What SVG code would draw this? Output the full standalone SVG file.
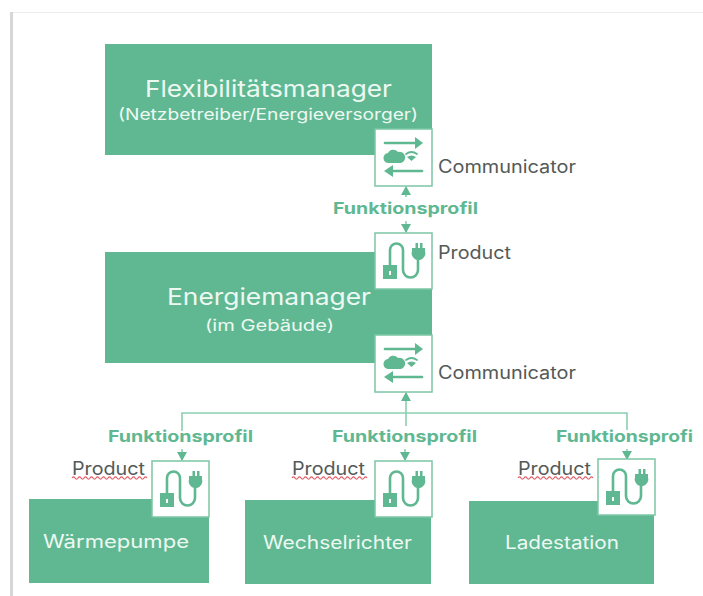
<svg xmlns="http://www.w3.org/2000/svg" width="703" height="596" viewBox="0 0 703 596">
<style>
text{font-family:"Inter","Open Sans","Liberation Sans",sans-serif}
.block{fill:#5fb891}
.box{fill:#fff;stroke:#7cc6a5;stroke-width:1.5}
.white{fill:#eef8f3}
.title{font-size:23px}
.sub{font-size:16px}
.leaf{font-size:18px}
.dark{fill:#555a58;font-size:18px}
.fp{fill:#5fb891;font-size:16px;font-weight:700}
.conn{fill:none;stroke:#8ccfb1;stroke-width:1.6}
.ico{fill:none;stroke:#5fb891;stroke-width:2.6;stroke-linecap:round;stroke-linejoin:round}
.icf{fill:#5fb891}
.sq{fill:none;stroke:#e0606a;stroke-width:1.200}
</style>
<defs>
<marker id="ah" markerWidth="11" markerHeight="11" refX="8" refY="5" orient="auto" markerUnits="userSpaceOnUse"><path d="M0 0L9 5L0 10Z" fill="#5fb891"/></marker>
<g id="comm">
<rect class="box" width="57" height="57"/>
<path class="ico" d="M10 14H44"/><path class="icf" d="M40 8L48 14L40 20Z"/>
<path class="ico" d="M47 42H15"/><path class="icf" d="M18 36L9 42L18 48Z"/>
<path class="icf" d="M14 34a5 5 0 0 1-1-10a6 6 0 0 1 10-1a5.500 5.500 0 0 1 3 11Z"/>
<path class="ico" style="stroke-width:1.800" d="M31 25q5.500-4 11 0"/><path class="icf" d="M32 28q4.500-3 9 0l-4.500 4Z"/>
</g>
<g id="prod">
<rect class="box" width="57" height="56"/>
<path class="ico" d="M15 33V17a6.500 6.500 0 0 1 13 0V37a7.500 7.500 0 0 0 15 0V27"/>
<path class="icf" d="M37 15h3.500V10h2.500v5h2v-5h2.500v5H50v3a7 7 0 0 1-5 9h-3a7 7 0 0 1-5-9Z"/>
<rect class="icf" x="8" y="32" width="14" height="14"/><rect x="14" y="38" width="2" height="4" fill="#fff"/>
</g>
<path id="wave" class="sq" d="M0 0q1.500-2.400 3 0t3 0t3 0t3 0t3 0t3 0t3 0t3 0t3 0t3 0t3 0t3 0t3 0t3 0t3 0t3 0t3 0t3 0t3 0t3 0t3 0t3 0t3 0t3 0t3 0"/>
</defs>
<rect width="703" height="596" fill="#fff"/>
<rect x="10" y="12" width="3" height="584" fill="#d6d6d6"/>
<rect x="13" y="12" width="690" height="1" fill="#ececec"/>

<g id="connectors">
<path class="conn" d="M406 197V187" marker-end="url(#ah)"/>
<path class="conn" d="M406 221V232" marker-end="url(#ah)"/>
<path class="conn" d="M406 426V393" marker-end="url(#ah)"/>
<path class="conn" d="M182 431V413H627V430"/>
<path class="conn" d="M182 449V460" marker-end="url(#ah)"/>
<path class="conn" d="M405 449V460" marker-end="url(#ah)"/>
<path class="conn" d="M627 449V459" marker-end="url(#ah)"/>
</g>

<g id="flexibilitaetsmanager">
<rect class="block" x="105" y="44" width="327" height="111"/>
<text class="title white" x="145" y="97" textLength="247" lengthAdjust="spacingAndGlyphs">Flexibilitätsmanager</text>
<text class="sub white" x="118" y="120" textLength="300" lengthAdjust="spacingAndGlyphs">(Netzbetreiber/Energieversorger)</text>
</g>
<g id="communicator-1">
<use href="#comm" x="375" y="129"/>
<text class="dark" x="438" y="173" textLength="138" lengthAdjust="spacingAndGlyphs">Communicator</text>
</g>
<text class="fp" x="333" y="214" textLength="145" lengthAdjust="spacingAndGlyphs">Funktionsprofil</text>

<g id="energiemanager">
<rect class="block" x="105" y="252" width="327" height="111"/>
<text class="title white" x="167" y="305" textLength="204" lengthAdjust="spacingAndGlyphs">Energiemanager</text>
<text class="sub white" x="205" y="331" textLength="129" lengthAdjust="spacingAndGlyphs">(im Gebäude)</text>
</g>
<g id="product-1">
<use href="#prod" x="375" y="233"/>
<text class="dark" x="438" y="259" textLength="73" lengthAdjust="spacingAndGlyphs">Product</text>
</g>
<g id="communicator-2">
<use href="#comm" x="375" y="335"/>
<text class="dark" x="438" y="379" textLength="138" lengthAdjust="spacingAndGlyphs">Communicator</text>
</g>

<text class="fp" x="108" y="442" textLength="145" lengthAdjust="spacingAndGlyphs">Funktionsprofil</text>
<text class="fp" x="332" y="442" textLength="145" lengthAdjust="spacingAndGlyphs">Funktionsprofil</text>
<text class="fp" x="556" y="442" textLength="137" lengthAdjust="spacingAndGlyphs">Funktionsprofi</text>

<g id="waermepumpe">
<rect class="block" x="29" y="499" width="180" height="84"/>
<text class="leaf white" x="43" y="548" textLength="146" lengthAdjust="spacingAndGlyphs">Wärmepumpe</text>
<use href="#prod" x="152" y="461"/>
<text class="dark" x="72" y="475" textLength="73" lengthAdjust="spacingAndGlyphs">Product</text>
<use href="#wave" x="72" y="478"/>
</g>
<g id="wechselrichter">
<rect class="block" x="245" y="500" width="186" height="84"/>
<text class="leaf white" x="263" y="549" textLength="149" lengthAdjust="spacingAndGlyphs">Wechselrichter</text>
<use href="#prod" x="375" y="461"/>
<text class="dark" x="292" y="475" textLength="73" lengthAdjust="spacingAndGlyphs">Product</text>
<use href="#wave" x="292" y="478"/>
</g>
<g id="ladestation">
<rect class="block" x="469" y="501" width="185" height="83"/>
<text class="leaf white" x="505" y="549" textLength="114" lengthAdjust="spacingAndGlyphs">Ladestation</text>
<use href="#prod" x="598" y="459"/>
<text class="dark" x="518" y="475" textLength="73" lengthAdjust="spacingAndGlyphs">Product</text>
<use href="#wave" x="518" y="478"/>
</g>
</svg>
